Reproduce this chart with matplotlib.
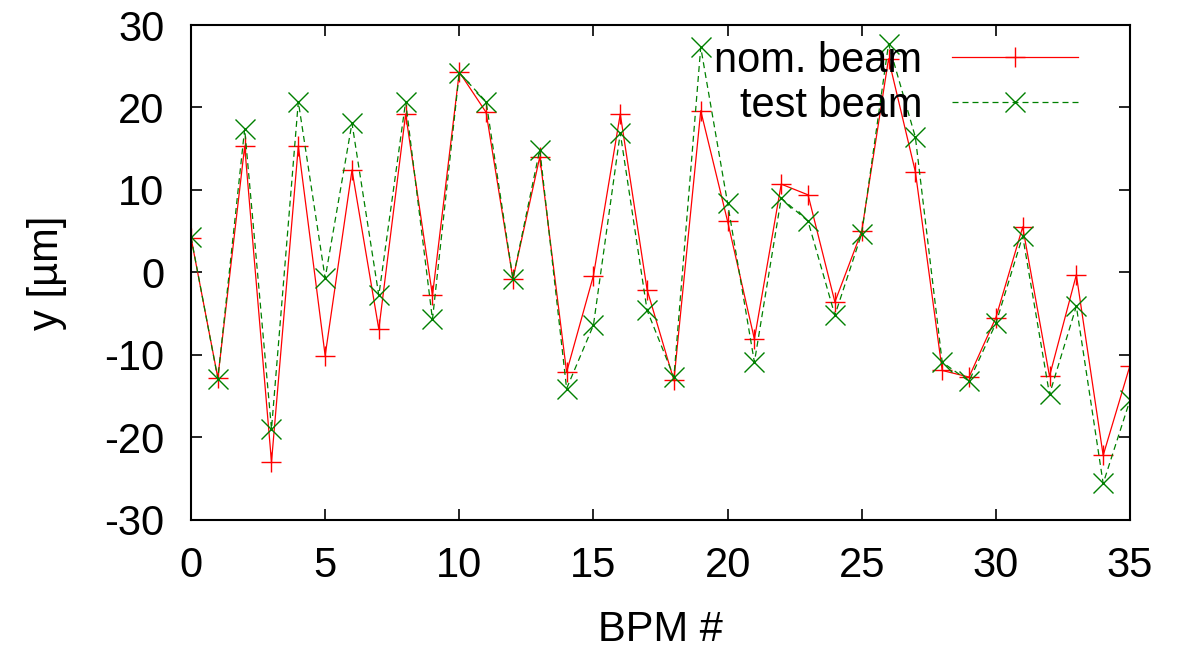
import numpy as np
import matplotlib
matplotlib.use("Agg")
import matplotlib.pyplot as plt

plt.rcParams['font.family'] = ['Liberation Sans', 'DejaVu Sans']
plt.rcParams['axes.unicode_minus'] = False

# BPM index and beam offsets
bpm = list(range(36))
nom_beam = [4.2, -12.8, 15.3, -23.0, 15.3, -10.1, 12.4, -6.9, 19.2, -2.8,
            24.3, 19.4, -0.8, 14.0, -12.1, -0.4, 19.2, -2.1, -13.1, 19.6,
            6.2, -8.1, 10.7, 9.4, -3.6, 5.0, 25.9, 12.2, -11.9, -12.7,
            -5.5, 5.5, -12.6, -0.3, -22.2, -11.3]
test_beam = [4.3, -12.9, 17.4, -19.0, 20.7, -0.7, 18.1, -2.8, 20.7, -5.7,
             24.2, 20.7, -0.8, 14.9, -14.1, -6.4, 16.9, -4.6, -12.7, 27.3,
             8.4, -10.9, 9.0, 6.2, -5.2, 4.7, 27.7, 16.4, -10.9, -13.2,
             -6.2, 4.4, -14.8, -4.1, -25.6, -15.5]


def main():
    fig = plt.figure(figsize=(11.82, 6.48), dpi=100)
    ax = fig.add_axes([0.1616, 0.198, 0.7944, 0.7634])

    ax.plot(bpm, nom_beam, color='#ff0000', lw=0.9, marker='+',
            markersize=15, markeredgewidth=1.0, label='nom. beam')
    ax.plot(bpm, test_beam, color='#008000', lw=0.9, ls=(0, (4.8, 3.2)),
            marker='x', markersize=15, markeredgewidth=1.0, label='test beam')

    ax.set_xlim(0, 35)
    ax.set_ylim(-30, 30)
    ax.set_xticks(range(0, 36, 5))
    ax.set_yticks(range(-30, 31, 10))
    ax.tick_params(direction='in', length=8, width=1.2, labelsize=30,
                   top=True, right=True)
    ax.tick_params(axis='y', pad=19)
    ax.tick_params(axis='x', pad=19)
    for s in ax.spines.values():
        s.set_linewidth(1.5)

    ax.set_xlabel('BPM #', fontsize=30, labelpad=17)
    ax.set_ylabel('y [µm]', fontsize=30, labelpad=27)

    leg = ax.legend(loc='upper right', frameon=False, fontsize=30,
                    markerfirst=False, handlelength=3.02, handletextpad=0.72,
                    labelspacing=0.12, borderaxespad=0, borderpad=0,
                    bbox_to_anchor=(0.9446, 0.968))
    for t in leg.get_texts():
        t.set_ha('right')

    fig.savefig('out.png', dpi=100)


if __name__ == "__main__":
    main()
